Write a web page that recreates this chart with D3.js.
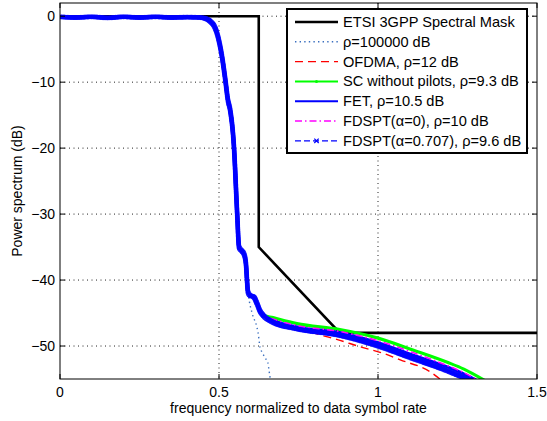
<!DOCTYPE html>
<html lang="en">
<head>
<meta charset="UTF-8">
<title>Power spectrum vs normalized frequency</title>
<script src="https://d3js.org/d3.v7.min.js"></script>
<style>
  body { margin: 0; background: #fff; }
  text { font-family: "Liberation Sans", Arial, sans-serif; fill: #000; }
</style>
</head>
<body>
<svg id="psd" width="547" height="421"></svg>
<script>
// ---- values ----
const xTicks = [0, 0.5, 1, 1.5];
const yTicks = [0, -10, -20, -30, -40, -50];

const maskF = [0, 0.625, 0.625, 0.88, 1.5];
const maskP = [0, 0, -35, -48, -48];

// passband + roll-off, common to all the schemes
const headF = [0, 0.05, 0.1, 0.15, 0.2, 0.25, 0.3, 0.35, 0.4, 0.44, 0.46, 0.475, 0.485, 0.495, 0.51, 0.52, 0.528, 0.535, 0.547, 0.557, 0.563, 0.572, 0.579, 0.585, 0.588];
const headP = [-0.1, -0.2, -0.1, -0.25, -0.1, -0.2, -0.1, -0.2, -0.15, -0.2, -0.4, -0.9, -1.5, -2.8, -6.3, -9.7, -12.7, -14.2, -19.8, -29.8, -35.0, -35.6, -36.1, -37.7, -40.0];

const shelfF = [0.591, 0.597, 0.61, 0.619, 0.629, 0.638];
const shelfP = [-41.8, -42.3, -42.6, -43.5, -44.7, -45.3];

const idealF = [0.592, 0.604, 0.619, 0.623, 0.629, 0.635, 0.645, 0.654, 0.657, 0.662];
const idealP = [-42.0, -45.0, -47.1, -48.0, -50.2, -50.9, -51.8, -52.6, -53.6, -55.2];

const ofdmaF = [0.67, 0.745, 0.81, 0.87, 0.95, 1.016, 1.07, 1.164, 1.2];
const ofdmaP = [-46.0, -47.2, -48.2, -49.0, -50.2, -51.1, -52.1, -53.9, -55.2];

const scF = [0.67, 0.745, 0.88, 1.0, 1.11, 1.22, 1.27, 1.335];
const scP = [-45.7, -46.6, -47.5, -48.8, -50.6, -52.5, -53.5, -55.2];

const fetF = [0.67, 0.745, 0.88, 1.0, 1.11, 1.22, 1.26, 1.31];
const fetP = [-46.1, -47.1, -48.0, -49.5, -51.4, -53.2, -54.0, -55.2];

const fdspt0F = [0.67, 0.745, 0.88, 1.0, 1.11, 1.22, 1.26, 1.315];
const fdspt0P = [-45.9, -46.9, -47.8, -49.2, -51.0, -53.0, -53.8, -55.2];

const fdspt7F = [0.67, 0.745, 0.88, 1.0, 1.11, 1.22, 1.25, 1.3];
const fdspt7P = [-46.4, -47.4, -48.4, -50.0, -51.9, -53.8, -54.4, -55.4];

const legendLabels = [
  "ETSI 3GPP Spectral Mask",
  "\u03c1=100000 dB",
  "OFDMA, \u03c1=12 dB",
  "SC without pilots, \u03c1=9.3 dB",
  "FET, \u03c1=10.5 dB",
  "FDSPT(\u03b1=0), \u03c1=10 dB",
  "FDSPT(\u03b1=0.707), \u03c1=9.6 dB"
];

const zip = (f, p) => f.map((v, i) => ({ f: v, p: p[i] }));

const series = [
  { pts: zip(maskF, maskP), color: "#000", width: 2.6, dash: null, linear: true },
  { pts: zip(headF.concat(idealF), headP.concat(idealP)), color: "#3a6fbf", width: 1.4, dash: "1.4,3.2" },
  { pts: zip(headF.concat(shelfF, ofdmaF), headP.concat(shelfP, ofdmaP)), color: "#ff0000", width: 1.4, dash: "8,5" },
  { pts: zip(headF.concat(shelfF, scF), headP.concat(shelfP, scP)), color: "#00ff00", width: 3.2, dash: null },
  { pts: zip(headF.concat(shelfF, fetF), headP.concat(shelfP, fetP)), color: "#0000ff", width: 3, dash: null },
  { pts: zip(headF.concat(shelfF, fdspt0F), headP.concat(shelfP, fdspt0P)), color: "#ff00ff", width: 1.6, dash: "7,3,1.5,3" },
  { pts: zip(headF.concat(shelfF, fdspt7F), headP.concat(shelfP, fdspt7P)), color: "#0000ff", width: 1.2, dash: "6,3", xMarks: true }
];

// ---- layout ----
const svg = d3.select("#psd");
const plot = { left: 60, right: 537, top: 3, bottom: 379 };

const x = d3.scaleLinear().domain([0, 1.5]).range([plot.left, plot.right]);
const y = d3.scaleLinear().domain([-55, 2]).range([plot.bottom, plot.top]);

svg.append("defs").append("clipPath").attr("id", "clip")
  .append("rect")
  .attr("x", plot.left).attr("y", plot.top)
  .attr("width", plot.right - plot.left).attr("height", plot.bottom - plot.top);

// grid
const grid = svg.append("g").attr("stroke", "#222").attr("stroke-width", 1).attr("stroke-dasharray", "1,3.5");
grid.selectAll("line.gx").data(xTicks.slice(1, -1)).join("line")
  .attr("x1", d => x(d)).attr("x2", d => x(d))
  .attr("y1", plot.top).attr("y2", plot.bottom);
grid.selectAll("line.gy").data(yTicks).join("line")
  .attr("x1", plot.left).attr("x2", plot.right)
  .attr("y1", d => y(d)).attr("y2", d => y(d));

// curves
const curves = svg.append("g").attr("clip-path", "url(#clip)");
series.forEach(s => {
  const line = d3.line().x(d => x(d.f)).y(d => y(d.p))
    .curve(s.linear ? d3.curveLinear : d3.curveMonotoneX);
  const path = curves.append("path")
    .datum(s.pts)
    .attr("d", line)
    .attr("fill", "none")
    .attr("stroke", s.color)
    .attr("stroke-width", s.width)
    .attr("stroke-dasharray", s.dash);
  if (s.xMarks) {
    const node = path.node();
    const len = node.getTotalLength();
    const marks = [];
    for (let l = 0; l <= len; l += 0.8) marks.push(node.getPointAtLength(l));
    curves.append("g").selectAll("path").data(marks).join("path")
      .attr("transform", d => `translate(${d.x},${d.y})`)
      .attr("d", "M-2,-2L2,2M-2,2L2,-2")
      .attr("stroke", s.color)
      .attr("stroke-width", 1.2);
  }
});

// axes box + inward ticks on all sides
const tickLen = 5;
const axes = svg.append("g").attr("stroke", "#000").attr("stroke-width", 1);
axes.append("rect")
  .attr("x", plot.left).attr("y", plot.top)
  .attr("width", plot.right - plot.left).attr("height", plot.bottom - plot.top)
  .attr("fill", "none");
xTicks.forEach(t => {
  axes.append("line").attr("x1", x(t)).attr("x2", x(t)).attr("y1", plot.bottom).attr("y2", plot.bottom - tickLen);
  axes.append("line").attr("x1", x(t)).attr("x2", x(t)).attr("y1", plot.top).attr("y2", plot.top + tickLen);
});
yTicks.forEach(t => {
  axes.append("line").attr("x1", plot.left).attr("x2", plot.left + tickLen).attr("y1", y(t)).attr("y2", y(t));
  axes.append("line").attr("x1", plot.right).attr("x2", plot.right - tickLen).attr("y1", y(t)).attr("y2", y(t));
});

// tick labels
svg.append("g").selectAll("text").data(xTicks).join("text")
  .attr("x", d => x(d)).attr("y", plot.bottom + 18)
  .attr("text-anchor", "middle")
  .style("font-size", "14px")
  .text(d => d);
svg.append("g").selectAll("text").data(yTicks).join("text")
  .attr("x", plot.left - 5).attr("y", d => y(d) + 5)
  .attr("text-anchor", "end")
  .style("font-size", "14px")
  .text(d => d < 0 ? "\u2212" + Math.abs(d) : d);

// axis titles
svg.append("text")
  .attr("x", (plot.left + plot.right) / 2).attr("y", 413)
  .attr("text-anchor", "middle")
  .style("font-size", "14px")
  .text("frequency normalized to data symbol rate");
svg.append("text")
  .attr("transform", `translate(22,${(plot.top + plot.bottom) / 2}) rotate(-90)`)
  .attr("text-anchor", "middle")
  .style("font-size", "14px")
  .text("Power spectrum (dB)");

// ---- legend ----
const legend = svg.append("g");
legend.append("rect")
  .attr("x", 287).attr("y", 9).attr("width", 240).attr("height", 144)
  .attr("fill", "#fff").attr("stroke", "#000").attr("stroke-width", 2);

const row = legend.selectAll("g.item").data(series).join("g")
  .attr("class", "item")
  .attr("transform", (d, i) => `translate(0,${22 + i * 19.8})`);
row.append("line")
  .attr("x1", 295).attr("x2", 338)
  .attr("stroke", d => d.color)
  .attr("stroke-width", d => d.width >= 3 ? 2 : d.width)
  .attr("stroke-dasharray", d => d.dash);
row.filter((d, i) => i === 3).append("circle")
  .attr("cx", 316.5).attr("r", 1.5).attr("fill", "#00ff00");
row.filter(d => d.xMarks).append("path")
  .attr("d", "M314.3,-2.2L318.7,2.2M314.3,2.2L318.7,-2.2")
  .attr("stroke", "#0000ff").attr("stroke-width", 1.2);
row.append("text")
  .attr("x", 343).attr("y", 5)
  .style("font-size", "14.6px")
  .text((d, i) => legendLabels[i]);
</script>
</body>
</html>
